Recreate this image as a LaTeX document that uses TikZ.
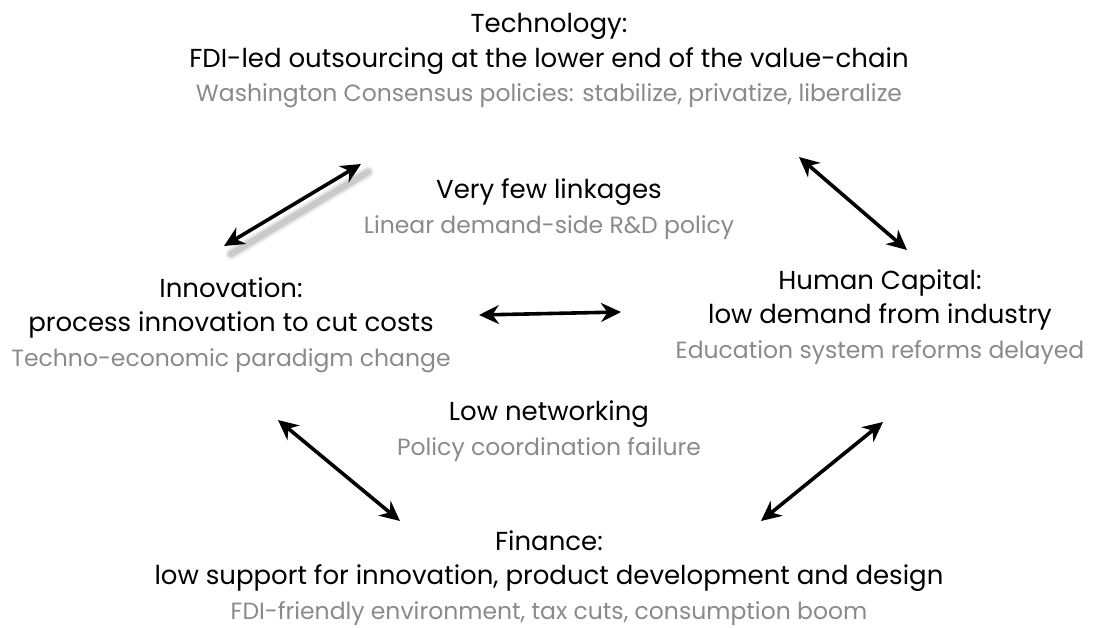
\documentclass[tikz,border=0pt]{standalone}
\usepackage{fontspec}
\setmainfont{Poppins}
\usepackage{xcolor}
\usetikzlibrary{arrows.meta,positioning,calc}
\definecolor{textgrey}{RGB}{138,138,138}
\newcommand{\policyline}[1]{{\fontsize{23.5}{34.5}\selectfont\color{textgrey}#1}}

\begin{document}
\begin{tikzpicture}[x=1pt,y=-1pt,
    block/.style={align=center, font=\fontsize{26}{34.5}\selectfont, inner sep=0pt},
    link/.style={line width=3.6pt, {Stealth[length=20pt,width=19pt]}-{Stealth[length=20pt,width=19pt]}}]
    \useasboundingbox (0,0) rectangle (1098,627);

    % Outer blocks
    \node[block] (tech) at (549,61) {Technology:\\FDI-led outsourcing at the lower end of the value-chain\\\policyline{Washington Consensus policies: stabilize, privatize, liberalize}};
    \node[block] (innov) at (231,325) {Innovation:\\process innovation to cut costs\\\policyline{Techno-economic paradigm change}};
    \node[block] (human) at (880,317) {Human Capital:\\low demand from industry\\\policyline{Education system reforms delayed}};
    \node[block] (fin) at (549,578) {Finance:\\low support for innovation, product development and design\\\policyline{FDI-friendly environment, tax cuts, consumption boom}};

    % Inner labels
    \node[block] (linkages) at (549,209) {Very few linkages\\\policyline{Linear demand-side R\&D policy}};
    \node[block] (networking) at (549,431) {Low networking\\\policyline{Policy coordination failure}};

    % Arrow ends
    \coordinate (a1) at (224,246); \coordinate (b1) at (361,164);
    \coordinate (a2) at (479,315); \coordinate (b2) at (621,312);
    \coordinate (a3) at (799,157); \coordinate (b3) at (907,250);
    \coordinate (a4) at (278,420); \coordinate (b4) at (400,521);
    \coordinate (a5) at (761,521); \coordinate (b5) at (883,422);

    % Shadow under the top left arrow
    \foreach \w/\o in {12/0.05,9/0.07,6/0.1} {
        \draw[line width=\w pt, black, opacity=\o, line cap=round] ($(a1)+(7,8)$) -- ($(b1)+(7,8)$);
    }

    \draw[link] (a1) -- (b1);
    \draw[link] (a2) -- (b2);
    \draw[link] (a3) -- (b3);
    \draw[link] (a4) -- (b4);
    \draw[link] (a5) -- (b5);
\end{tikzpicture}
\end{document}
